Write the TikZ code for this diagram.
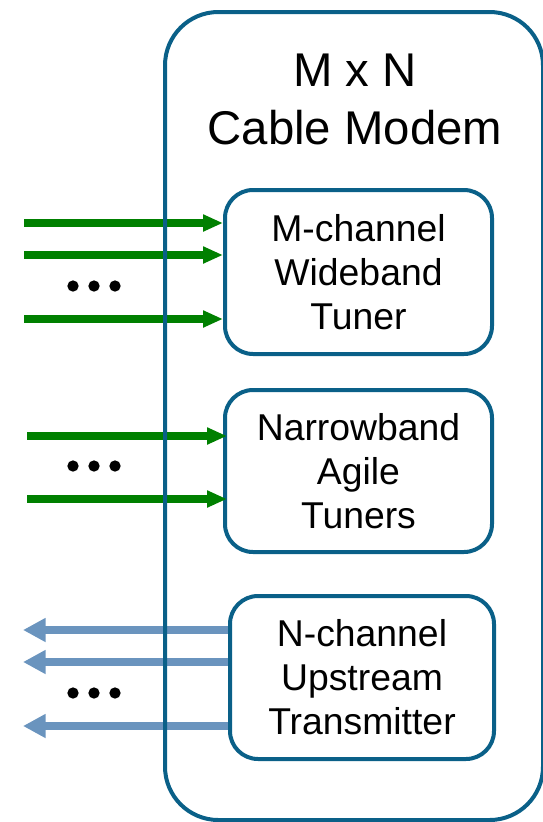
\documentclass[tikz,border=0pt]{standalone}
\usepackage{fontspec}
\setmainfont{Liberation Sans}
\usetikzlibrary{arrows.meta}
\definecolor{frame}{RGB}{10,96,136}
\definecolor{gr}{RGB}{0,128,0}
\definecolor{up}{RGB}{106,148,190}
\tikzset{
  outerbox/.style={draw=frame, line width=3pt, rounded corners=40pt},
  innerbox/.style={draw=frame, line width=3pt, rounded corners=21pt,
    align=center, font=\fontsize{28}{33}\selectfont, inner sep=0pt},
  garrow/.style={draw=gr, line width=5.5pt, -{Triangle[length=15pt,width=12pt]}},
  barrow/.style={draw=up, line width=5.5pt, -{Triangle[length=17pt,width=17pt]}},
  dotc/.style={fill=black, circle, inner sep=0pt, minimum size=8.5pt},
}
\begin{document}
\begin{tikzpicture}[x=0.75pt,y=-0.75pt]
\useasboundingbox (0,0) rectangle (543,822);
% inner boxes
\node[innerbox, minimum width=267*0.75pt, minimum height=164*0.75pt] (b1) at (358.5,272) {M-channel\\Wideband\\Tuner};
\node[innerbox, minimum width=267*0.75pt, minimum height=162*0.75pt] (b2) at (358.5,471) {Narrowband\\Agile\\Tuners};
\node[innerbox, minimum width=264*0.75pt, minimum height=163*0.75pt] (b3) at (362,677.5) {N-channel\\Upstream\\Transmitter};
% green input arrows
\coordinate (g1) at (24,223);
\coordinate (g2) at (24,255);
\coordinate (g3) at (24,319);
\coordinate (g4) at (27,436);
\coordinate (g5) at (27,499);
\draw[garrow] (g1) -- (g1 -| b1.west);
\draw[garrow] (g2) -- (g2 -| b1.west);
\draw[garrow] (g3) -- (g3 -| b1.west);
\draw[garrow] (g4) -- ([xshift=3pt]g4 -| b2.west);
\draw[garrow] (g5) -- ([xshift=3pt]g5 -| b2.west);
% blue upstream arrows
\coordinate (u1) at (23,630);
\coordinate (u2) at (23,662);
\coordinate (u3) at (23,726);
\draw[barrow] (u1 -| b3.west) -- (u1);
\draw[barrow] (u2 -| b3.west) -- (u2);
\draw[barrow] (u3 -| b3.west) -- (u3);
% outer box drawn over the arrows
\node[outerbox, minimum width=378*0.75pt, minimum height=808*0.75pt, anchor=north west] (outer) at (163,10) {};
\node[align=center, font=\fontsize{35.5}{43.5}\selectfont] (title) at (355,99) {M x N\\Cable Modem};
% dots
\foreach \n/\y in {a/286, b/466, c/693}{
  \node[dotc] (\n1) at (73,\y) {};
  \node[dotc] (\n2) at (94,\y) {};
  \node[dotc] (\n3) at (115,\y) {};
}
\end{tikzpicture}
\end{document}
